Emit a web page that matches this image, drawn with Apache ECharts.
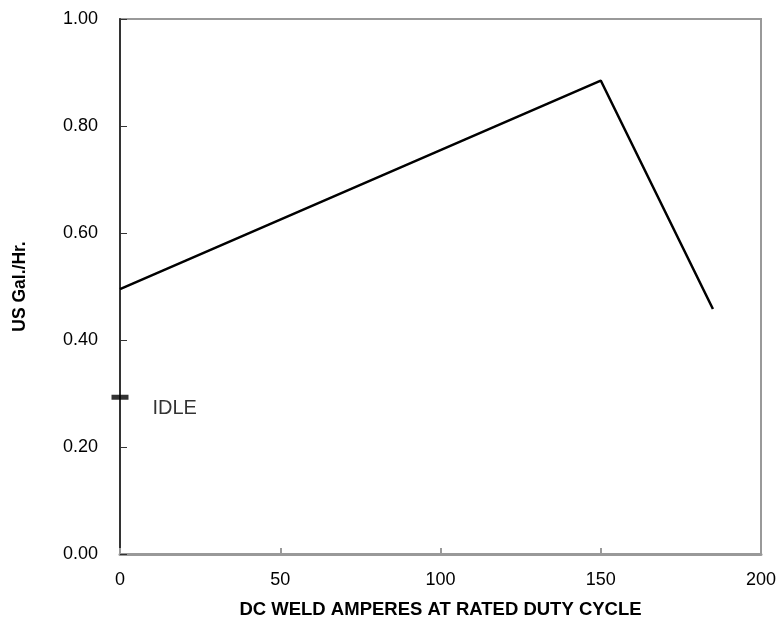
<!DOCTYPE html>
<html><head><meta charset="utf-8">
<script src="https://cdn.jsdelivr.net/npm/echarts@6/dist/echarts.min.js"></script>
<style>html,body{margin:0;padding:0;background:#fff}#c{width:780px;height:627px}</style>
</head><body><div id="c"></div>
<script>
const amps = [0, 150, 185];
const galPerHr = [0.495, 0.885, 0.458];
const idleAmps = [0];
const idleGal = [0.293];
const idleLabel = "IDLE";
const xTitle = "DC WELD AMPERES AT RATED DUTY CYCLE";
const yTitle = "US Gal./Hr.";

const chart = echarts.init(document.getElementById('c'));
const font = '"Liberation Sans", Arial, sans-serif';
chart.setOption({
  animation: false,
  grid: {left: 120, right: 19, top: 19, bottom: 73, show: true, borderColor: '#999', borderWidth: 2},
  xAxis: {
    type: 'value', min: 0, max: 200, interval: 50,
    name: xTitle, nameLocation: 'middle', nameGap: 46,
    nameTextStyle: {fontFamily: font, fontSize: 18.5, fontWeight: 'bold', color: '#000'},
    axisLine: {show: true, lineStyle: {color: '#999', width: 3}},
    axisTick: {show: true, inside: true, length: 6, lineStyle: {color: '#999', width: 2}},
    axisLabel: {fontFamily: font, fontSize: 18, color: '#000', margin: 17},
    splitLine: {show: false}
  },
  yAxis: {
    type: 'value', min: 0, max: 1, interval: 0.2,
    name: yTitle, nameLocation: 'middle', nameGap: 91,
    nameTextStyle: {fontFamily: font, fontSize: 17.5, fontWeight: 'bold', color: '#000'},
    axisLine: {show: true, lineStyle: {color: '#333', width: 2}},
    axisTick: {show: true, inside: true, length: 7, lineStyle: {color: '#333', width: 1}},
    axisLabel: {fontFamily: font, fontSize: 18, color: '#000', margin: 22, formatter: v => v.toFixed(2)},
    splitLine: {show: false}
  },
  series: [
    {
      type: 'line', data: amps.map((a, i) => [a, galPerHr[i]]),
      showSymbol: false, lineStyle: {color: '#000', width: 2.5}, z: 3
    },
    {
      type: 'scatter', data: idleAmps.map((a, i) => [a, idleGal[i]]),
      symbol: 'rect', symbolSize: [17, 5], itemStyle: {color: '#000'}, z: 4,
      label: {show: true, position: 'right', distance: 24, offset: [0, 11], formatter: idleLabel,
        fontFamily: font, fontSize: 20, color: '#000'}
    }
  ]
});
</script></body></html>
